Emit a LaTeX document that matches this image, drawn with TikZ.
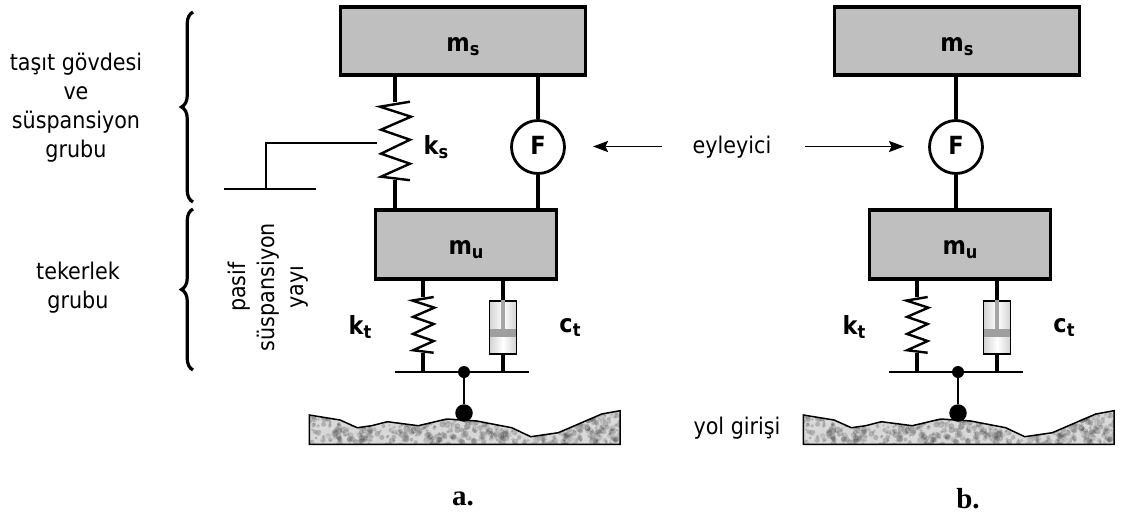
\documentclass[tikz,border=0pt]{standalone}
\usepackage{fontspec}
\usepackage{tikz}
\usetikzlibrary{arrows.meta,decorations.pathreplacing}
\setmainfont{DejaVu Sans Condensed}
\newfontfamily\capfont{Liberation Serif}

\definecolor{massgray}{gray}{0.75}

\newcommand{\roadshape}{(309.3,415) -- (340,420) -- (357.3,427.7) -- (371.7,425.7) -- (387.3,421.7)
  -- (418.3,425.7) -- (446.7,419) -- (476.7,421) -- (511.7,427.7) -- (530.7,436.7) -- (558.3,432.7)
  -- (601.7,414) -- (620,410.7) -- (620,444.3) -- (309.3,444.3) -- cycle}
\newcommand{\subtxt}[2]{{\fontsize{25}{25}\selectfont\textbf{#1\raisebox{-4pt}{\fontsize{18}{18}\selectfont #2}}}}

\tikzset{
  x=1pt, y=-1pt,
  every node/.style={font=\fontsize{23}{29}\selectfont, inner sep=0pt},
  mass/.style={draw, line width=3.2pt, fill=massgray, align=center},
  stem/.style={line width=3.4pt},
  thinline/.style={line width=1.5pt},
  actuator/.style={draw, circle, fill=white, line width=2.8pt, minimum size=53pt},
  dotnode/.style={circle, fill=black},
  pointer/.style={line width=1.8pt, -{Stealth[length=15pt,width=11pt,inset=2.5pt]}},
  groupbrace/.style={line width=3.2pt, decorate, decoration={brace, amplitude=11.5pt}},
  zigspring/.pic={
    \coordinate (-top) at (0,0);
    \coordinate (-bottom) at (0,78.5);
    \draw[line width=2.4pt] (15,0) -- (-15,5) -- (16,15) -- (-14,28) -- (15,38)
      -- (-14,52) -- (15,62) -- (-14,75) -- (15,78.5);
  }
}

\begin{document}
\begin{tikzpicture}
  \useasboundingbox (0,0) rectangle (1129,515);

  % the parts both models share
  \foreach \side/\dx/\fx in {a/0/538, b/494/462}{
    \begin{scope}[shift={(\dx,0)}, name prefix=\side-]
      \node[mass, minimum width=245pt, minimum height=68pt] (ms) at (463,41) {};
      \node (mslabel) at (463,47) {\subtxt{m}{s}};
      \node[mass, minimum width=181pt, minimum height=69pt] (mu) at (466,244.5) {};
      \node (mulabel) at (466,250) {\subtxt{m}{u}};
      \node[actuator] (F) at (\fx,147) {\subtxt{F}{}};
      \draw[stem] (F) -- (F |- ms.south);
      \draw[stem] (F) -- (F |- mu.north);

      % wheel spring and damper
      \pic[scale=0.71] (kt) at (423,297) {zigspring};
      \node[draw, line width=1.6pt, minimum width=27pt, minimum height=53pt,
        left color=gray!35, right color=gray!35, middle color=white] (ct) at (503,327.5) {};
      \node[fill=gray!75, minimum width=25.5pt, minimum height=8pt] (piston) at (503,333) {};
      \draw[line width=3.4pt, gray!70] (ct.north) -- (piston.north);
      \coordinate (baseleft) at (395,372);
      \coordinate (baseright) at (529,372);
      \draw[thinline] (baseleft) -- (baseright);
      \draw[stem] (kt-top) -- (kt-top |- mu.south);
      \draw[stem] (kt-bottom) -- (kt-bottom |- baseleft);
      \draw[stem] (ct.north) -- (ct.north |- mu.south);
      \draw[stem] (ct.south) -- (ct.south |- baseleft);
      \node at (360,327) {\subtxt{k}{t}};
      \node at (570,327) {\subtxt{c}{t}};

      % road
      \begin{scope}
        \clip \roadshape;
        \fill[gray!32] (300,405) rectangle (630,450);
        \pgfmathsetseed{4711}
        \foreach \n in {1,...,1300}{
          \pgfmathsetmacro{\px}{309+311*rnd}
          \pgfmathsetmacro{\py}{408+38*rnd}
          \pgfmathsetmacro{\pr}{1.2+2.2*rnd}
          \pgfmathsetmacro{\pg}{100*(rnd<0.5?0.12:0.68)}
          \fill[black!\pg!white, opacity=0.3] (\px,\py) circle (\pr);
        }
      \end{scope}
      \draw[line width=1.5pt] \roadshape;

      \node[dotnode, minimum size=12pt] (hub) at (464,372) {};
      \node[dotnode, minimum size=17.5pt] (wheel) at (464,413) {};
      \draw[thinline] (hub) -- (wheel);
    \end{scope}
  }

  % body spring only in model a
  \pic (ks) at (395,101.7) {zigspring};
  \draw[stem] (ks-top) -- (ks-top |- a-ms.south);
  \draw[stem] (ks-bottom) -- (ks-bottom |- a-mu.north);
  \node at (436,147) {\subtxt{k}{s}};
  \coordinate (ksend) at (377,143);
  \coordinate (groundleft) at (224,189);
  \coordinate (groundright) at (316,189);
  \coordinate (groundmid) at (266,189);
  \draw[thinline] (groundleft) -- (groundright);
  \draw[line width=1.1pt] (groundmid) |- (ksend);

  % group labels
  \coordinate (upperbot) at (193,202);
  \coordinate (uppertop) at (193,12);
  \coordinate (lowerbot) at (193,370);
  \coordinate (lowertop) at (193,209);
  \draw[groupbrace] (upperbot) -- (uppertop);
  \draw[groupbrace] (lowerbot) -- (lowertop);
  \node[align=center] (body) at (76,108) {taşıt gövdesi\\ve\\süspansiyon\\grubu};
  \node[align=center] (wheelgroup) at (78,288) {tekerlek\\grubu};
  \node[align=center, rotate=90] (passive) at (268,287) {pasif\\süspansiyon\\yayı};

  \node (actlabel) at (732,147) {eyleyici};
  \coordinate (leftstart) at (662,146.5);
  \coordinate (leftend) at (593,146.5);
  \coordinate (rightstart) at (805,146.5);
  \coordinate (rightend) at (904,146.5);
  \draw[pointer] (leftstart) -- (leftend);
  \draw[pointer] (rightstart) -- (rightend);

  \node (roadlabel) at (737,428) {yol girişi};
  \node[font=\capfont\bfseries\fontsize{29}{29}\selectfont] (capa) at (463,499) {a.};
  \node[font=\capfont\bfseries\fontsize{29}{29}\selectfont] (capb) at (968,499) {b.};
\end{tikzpicture}
\end{document}
